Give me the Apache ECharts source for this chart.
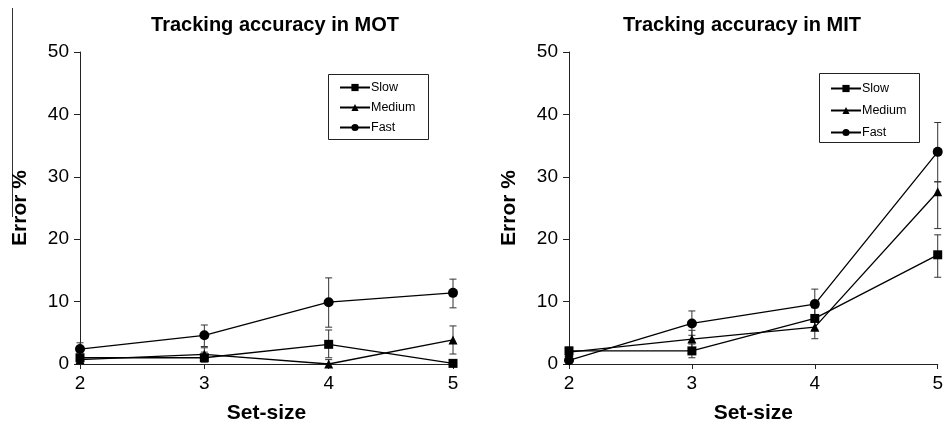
<!DOCTYPE html>
<html>
<head>
<meta charset="utf-8">
<style>
  html, body { margin: 0; padding: 0; background: #fff; }
  #chart { width: 946px; height: 434px; }
</style>
<script src="https://cdn.jsdelivr.net/npm/echarts@6/dist/echarts.min.js"></script>
</head>
<body>
<div id="chart"></div>
<script>
// Set sizes on the x axis
const setSize = [2, 3, 4, 5];
const yTicks = [0, 10, 20, 30, 40, 50];

// MOT: error % per speed
const motSlow = [1.0, 1.0, 3.15, 0.1];
const motMedium = [0.7, 1.55, 0.0, 3.85];
const motFast = [2.4, 4.6, 9.9, 11.4];
// MOT: error bar bounds
const motSlowLow = [0.5, 0.3, 1.0, 0.0];
const motSlowHigh = [1.5, 1.9, 5.45, 0.3];
const motMediumLow = [0.3, 0.5, 0.0, 1.6];
const motMediumHigh = [1.1, 2.6, 0.7, 6.1];
const motFastLow = [1.4, 2.8, 5.9, 9.0];
const motFastHigh = [3.4, 6.25, 13.8, 13.6];

// MIT: error % per speed
const mitSlow = [2.1, 2.1, 7.3, 17.5];
const mitMedium = [1.9, 4.0, 5.9, 27.6];
const mitFast = [0.6, 6.5, 9.6, 34.0];
// MIT: error bar bounds
const mitSlowLow = [1.5, 1.0, 5.5, 13.9];
const mitSlowHigh = [2.7, 3.2, 9.0, 20.7];
const mitMediumLow = [1.2, 2.6, 4.05, 21.7];
const mitMediumHigh = [2.4, 5.4, 7.7, 29.2];
const mitFastLow = [0.2, 4.6, 7.2, 29.2];
const mitFastHigh = [1.2, 8.5, 12.0, 38.7];

const speeds = ['Slow', 'Medium', 'Fast'];
const symbols = { Slow: 'rect', Medium: 'triangle', Fast: 'circle' };
const symbolSizes = { Slow: 9, Medium: 9, Fast: 10 };

const FONT = '"Liberation Sans", Arial, sans-serif';
const INK = '#000';

const pairs = (ys) => setSize.map((x, i) => [x, ys[i]]);
const bars = (lo, hi) => setSize.map((x, i) => [x, lo[i], hi[i]]);

function lineSeries(name, ys, gi) {
  return {
    type: 'line', name, xAxisIndex: gi, yAxisIndex: gi,
    data: pairs(ys),
    symbol: symbols[name], symbolSize: symbolSizes[name],
    itemStyle: { color: INK },
    lineStyle: { color: INK, width: 1.3 },
    z: 3
  };
}

function errorSeries(lo, hi, gi) {
  return {
    type: 'custom', xAxisIndex: gi, yAxisIndex: gi,
    data: bars(lo, hi),
    silent: true,
    z: 2,
    renderItem(params, api) {
      const x = api.value(0);
      const top = api.coord([x, api.value(2)]);
      const bot = api.coord([x, api.value(1)]);
      const cap = 3.5;
      const style = { stroke: '#333', lineWidth: 1 };
      return {
        type: 'group',
        children: [
          { type: 'line', shape: { x1: top[0], y1: top[1], x2: bot[0], y2: bot[1] }, style },
          { type: 'line', shape: { x1: top[0] - cap, y1: top[1], x2: top[0] + cap, y2: top[1] }, style },
          { type: 'line', shape: { x1: bot[0] - cap, y1: bot[1], x2: bot[0] + cap, y2: bot[1] }, style }
        ]
      };
    }
  };
}

function xAxis(gi) {
  return {
    type: 'value', gridIndex: gi, min: 2, max: 5, interval: 1,
    name: 'Set-size', nameLocation: 'middle', nameGap: 39,
    nameTextStyle: { fontFamily: FONT, fontWeight: 'bold', fontSize: 21, color: INK },
    axisLine: { lineStyle: { color: '#222', width: 1 } },
    axisTick: { show: true, length: 5, lineStyle: { color: '#222' } },
    axisLabel: { fontFamily: FONT, fontSize: 19, color: INK, margin: 10 },
    splitLine: { show: false }
  };
}

function yAxis(gi) {
  return {
    type: 'value', gridIndex: gi,
    min: yTicks[0], max: yTicks[yTicks.length - 1], interval: 10,
    name: 'Error %', nameLocation: 'middle', nameGap: 49,
    nameTextStyle: { fontFamily: FONT, fontWeight: 'bold', fontSize: 21, color: INK },
    axisLine: { show: true, lineStyle: { color: '#222', width: 1 } },
    axisTick: { show: true, length: 6, lineStyle: { color: '#222' } },
    axisLabel: { fontFamily: FONT, fontSize: 19, color: INK, margin: 11 },
    splitLine: { show: false }
  };
}

function legend(left, top, gap) {
  return {
    orient: 'vertical', left, top,
    data: speeds,
    itemWidth: 30, itemHeight: 9, itemGap: gap,
    selectedMode: false,
    textStyle: { fontFamily: FONT, fontSize: 12.5, color: INK, padding: [0, 0, 0, -4] }
  };
}

const chart = echarts.init(document.getElementById('chart'), null, { renderer: 'canvas' });

chart.setOption({
  animation: false,
  backgroundColor: '#fff',
  title: [
    { text: 'Tracking accuracy in MOT', left: 270, top: 10, textAlign: 'center',
      textStyle: { fontFamily: FONT, fontWeight: 'bold', fontSize: 20, color: INK } },
    { text: 'Tracking accuracy in MIT', left: 737, top: 10, textAlign: 'center',
      textStyle: { fontFamily: FONT, fontWeight: 'bold', fontSize: 20, color: INK } }
  ],
  grid: [
    { left: 80, right: 493, top: 52, bottom: 70 },
    { left: 569, right: 3, top: 52, bottom: 70 }
  ],
  xAxis: [xAxis(0), xAxis(1)],
  yAxis: [yAxis(0), yAxis(1)],
  legend: [legend(334, 76, 7), legend(825, 77, 9)],
  graphic: [
    { type: 'rect', shape: { x: 328.5, y: 74.5, width: 100, height: 65 },
      style: { fill: 'none', stroke: '#222', lineWidth: 1 }, z: 0 },
    { type: 'rect', shape: { x: 819.5, y: 73.5, width: 100, height: 69 },
      style: { fill: 'none', stroke: '#222', lineWidth: 1 }, z: 0 },
    { type: 'line', shape: { x1: 12.5, y1: 8, x2: 12.5, y2: 217 },
      style: { stroke: '#333', lineWidth: 1 } }
  ],
  series: [
    errorSeries(motSlowLow, motSlowHigh, 0),
    errorSeries(motMediumLow, motMediumHigh, 0),
    errorSeries(motFastLow, motFastHigh, 0),
    lineSeries('Slow', motSlow, 0),
    lineSeries('Medium', motMedium, 0),
    lineSeries('Fast', motFast, 0),
    errorSeries(mitSlowLow, mitSlowHigh, 1),
    errorSeries(mitMediumLow, mitMediumHigh, 1),
    errorSeries(mitFastLow, mitFastHigh, 1),
    lineSeries('Slow', mitSlow, 1),
    lineSeries('Medium', mitMedium, 1),
    lineSeries('Fast', mitFast, 1)
  ]
});
</script>
</body>
</html>
